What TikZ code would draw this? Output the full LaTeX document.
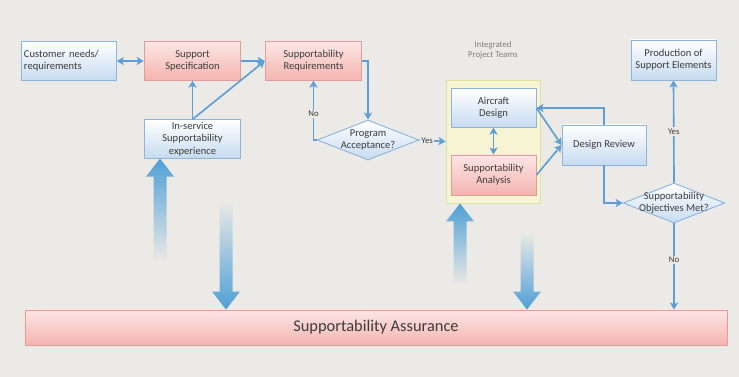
\documentclass[tikz,border=0pt]{standalone}
\usepackage{fontspec}
\setmainfont{Carlito}
\usepackage{tikz}
\usetikzlibrary{positioning}
\usetikzlibrary{arrows.meta,shapes.geometric}
\usetikzlibrary{calc}

\definecolor{bgc}{HTML}{ECEAE6}
\definecolor{txtgray}{HTML}{3C3C3C}
\definecolor{blueedge}{HTML}{8DB5DC}
\definecolor{bluefill}{HTML}{C6DBF0}
\definecolor{pinkedge}{HTML}{E39C9A}
\definecolor{pinktop}{HTML}{FCE6E4}
\definecolor{pinkfill}{HTML}{F4B4B0}
\definecolor{yedge}{HTML}{D9E2A0}
\definecolor{yfill}{HTML}{F7F4D4}
\definecolor{arrowblue}{HTML}{5E9ED6}
\definecolor{bigblue}{HTML}{4F9FD6}

\tikzset{
  txt/.style={font=\fontsize{9}{10.5}\selectfont, text=txtgray, align=center},
  bluebox/.style={txt, draw=blueedge, line width=0.8pt, top color=white, bottom color=bluefill,
    minimum width=2.9cm, minimum height=1.15cm, inner sep=2pt},
  pinkbox/.style={txt, draw=pinkedge, line width=0.8pt, top color=pinktop, bottom color=pinkfill,
    minimum width=2.9cm, minimum height=1.15cm, inner sep=2pt},
  dia/.style={diamond, draw=blueedge, line width=0.8pt, top color=white, bottom color=bluefill,
    minimum width=3.05cm, minimum height=1.2cm, inner sep=0pt},
  conn/.style={draw=arrowblue, line width=1.4pt},
  lbl/.style={font=\fontsize{7.5}{9}\selectfont, text=txtgray},
  bigup/.style={top color=bigblue, bottom color=bgc},
  bigdown/.style={top color=bgc, bottom color=bigblue},
}

\begin{document}
\begin{tikzpicture}[x=0.03cm, y=-0.03cm, >={Stealth[length=6pt,width=7pt,inset=1.5pt]}]
 %background
 \fill[bgc] (0,0) rectangle (739,377);
 \useasboundingbox (0,0) rectangle (739,377);

 %row 1
 \node[bluebox, minimum width=2.82cm, text width=2.7cm, align=left] (cust) at (69,61) {Customer needs/\\requirements};
 \node[pinkbox] (spec) at (192.5,61) {Support\\Specification};
 \node[pinkbox] (sreq) at (313.5,61) {Supportability\\Requirements};
 \node[bluebox, minimum width=2.55cm, minimum height=1.2cm] (prod) at (673.5,60) {Production of\\Support Elements};

 %row 2
 \node[bluebox] (inserv) at (192.5,139) {In-service\\Supportability\\experience};
 \node[dia, label={[txt]center:Program\\Acceptance?}] (pa) at (368,140) {};

 %integrated project teams
 \node[lbl, text=gray, align=center] (iptl) at (493,50) {Integrated\\Project Teams};
 \node[draw=yedge, fill=yfill, line width=0.8pt, minimum width=2.82cm, minimum height=3.69cm] (ipt) at (493,141.5) {};
 \node[bluebox, minimum width=2.55cm] (ad) at (493.5,108) {Aircraft\\Design};
 \node[pinkbox, minimum width=2.55cm, minimum height=1.2cm] (sa) at (493.5,175) {Supportability\\Analysis};

 \node[bluebox, minimum width=2.52cm, minimum height=1.2cm] (dr) at (604,145) {Design Review};
 \node[dia, label={[txt]center:Supportability\\Objectives Met?}] (som) at (674,203) {};

 %bottom bar
 \node[pinkbox, font=\fontsize{14}{16}\selectfont, minimum width=21.06cm, minimum height=1.05cm] (assur) at (376,327.5) {Supportability Assurance};

 %lines
 \path[conn, <->] (cust) -- (spec);
 \path[conn, ->] (spec) -- (sreq);
 \path[conn, ->] (inserv) -- (spec);
 \path[conn, ->] (inserv.north) -- (sreq.west);
 \path[conn, ->] (sreq.east) -| (pa.north);
 \path[conn, ->] (pa.west) -| node[lbl, pos=0.72, fill=bgc, inner sep=1pt] {No} (sreq.south);
 \path[conn, ->] (pa.east) -- node[lbl, pos=0.3, fill=bgc, inner sep=1pt] {Yes} (ipt.west);

 \path[conn, <->] (ad) -- (sa);
 \path[conn, ->] (ad.east) -- (dr.west);
 \path[conn, ->] (sa.east) -- (dr.west);
 \path[conn, ->] (dr.north) |- (ad.east);
 \path[conn, ->] (dr.south) |- (som.west);

 \path[conn, ->] (som.north) -- node[lbl, fill=bgc, inner sep=1pt] {Yes} (prod.south);
 \path[conn, ->] (som.south) -- node[lbl, pos=0.42, fill=bgc, inner sep=1pt] {No} (som.south |- assur.north);

 %block arrows
 \coordinate (b1s) at (160,262);
 \coordinate (b1e) at (b1s |- inserv.south);
 \shade[bigup] ($(b1s)+(-6.5,0)$) -- ($(b1e)+(-6.5,18)$) -- ($(b1e)+(-14,18)$) -- (b1e)
   -- ($(b1e)+(14,18)$) -- ($(b1e)+(6.5,18)$) -- ($(b1s)+(6.5,0)$) -- cycle;

 \coordinate (b2s) at (226,200);
 \coordinate (b2e) at (b2s |- assur.north);
 \shade[bigdown] ($(b2s)+(-6.5,0)$) -- ($(b2e)+(-6.5,-18)$) -- ($(b2e)+(-14,-18)$) -- (b2e)
   -- ($(b2e)+(14,-18)$) -- ($(b2e)+(6.5,-18)$) -- ($(b2s)+(6.5,0)$) -- cycle;

 \coordinate (b3s) at (460,285);
 \coordinate (b3e) at (b3s |- ipt.south);
 \shade[bigup] ($(b3s)+(-6.5,0)$) -- ($(b3e)+(-6.5,18)$) -- ($(b3e)+(-14,18)$) -- (b3e)
   -- ($(b3e)+(14,18)$) -- ($(b3e)+(6.5,18)$) -- ($(b3s)+(6.5,0)$) -- cycle;

 \coordinate (b4s) at (527,232);
 \coordinate (b4e) at (b4s |- assur.north);
 \shade[bigdown] ($(b4s)+(-6.5,0)$) -- ($(b4e)+(-6.5,-18)$) -- ($(b4e)+(-14,-18)$) -- (b4e)
   -- ($(b4e)+(14,-18)$) -- ($(b4e)+(6.5,-18)$) -- ($(b4s)+(6.5,0)$) -- cycle;

\end{tikzpicture}
\end{document}
